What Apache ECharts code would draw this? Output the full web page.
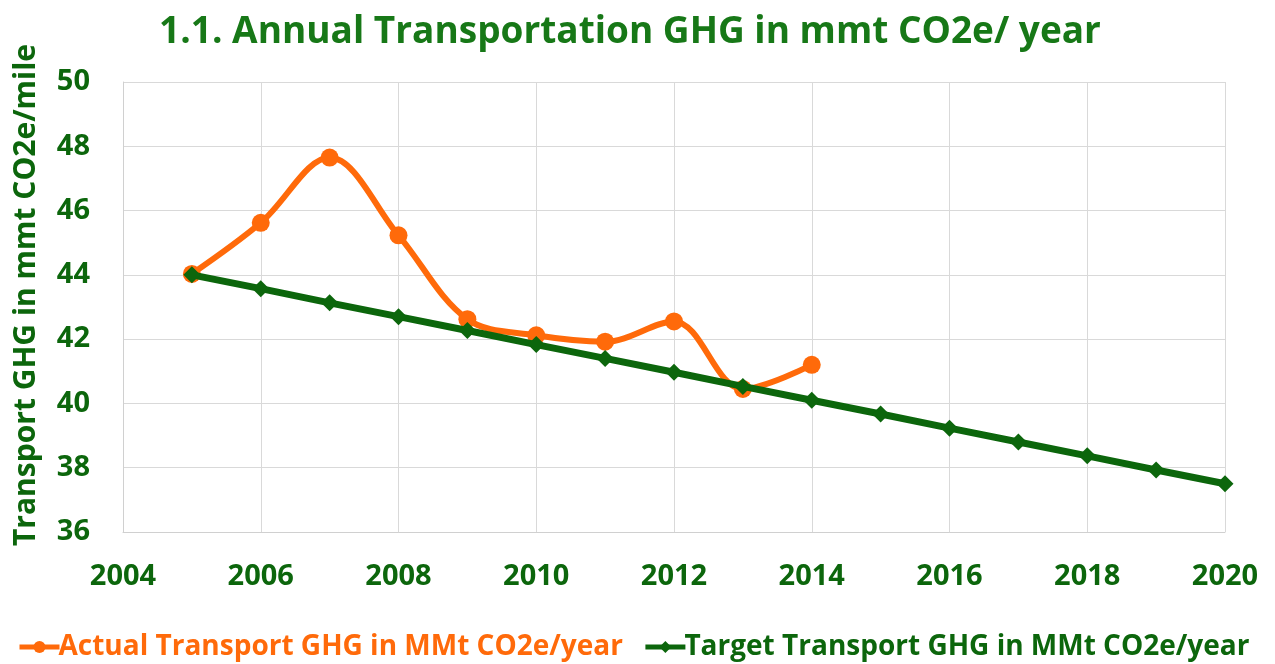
<!DOCTYPE html>
<html><head><meta charset="utf-8">
<script src="https://cdn.jsdelivr.net/npm/echarts@6/dist/echarts.min.js"></script>
<style>html,body{margin:0;padding:0;background:#fff}#c{width:1275px;height:664px}</style>
</head><body><div id="c"></div>
<script>
const years = [2005,2006,2007,2008,2009,2010,2011,2012,2013,2014,2015,2016,2017,2018,2019,2020];
const actualValues = [44.03,45.62,47.65,45.23,42.62,42.12,41.92,42.55,40.45,41.2];
const targetValues = [44.0,43.57,43.13,42.70,42.27,41.83,41.40,40.97,40.53,40.10,39.67,39.23,38.80,38.37,37.93,37.50];
const titleText = '1.1. Annual Transportation GHG in mmt CO2e/ year';
const yAxisTitle = 'Transport GHG in mmt CO2e/mile';
const seriesNames = ['Actual Transport GHG in MMt CO2e/year','Target Transport GHG in MMt CO2e/year'];

const FONT = 'Open Sans';
const GREEN = '#0C660C';
const ORANGE = '#FF6A0A';
const chart = echarts.init(document.getElementById('c'));
chart.setOption({
  animation:false,
  title:{text:titleText,left:625,top:9,textAlign:'center',
    textStyle:{fontFamily:FONT,fontWeight:'bold',fontSize:37,color:'#177817'}},
  grid:{left:123,right:50,top:82,bottom:132},
  legend:{left:12,bottom:-2,itemGap:20,itemWidth:40,itemHeight:15,
    lineStyle:{width:5},
    data:[{name:seriesNames[0],textStyle:{color:ORANGE}},{name:seriesNames[1],textStyle:{color:GREEN}}],
    textStyle:{fontFamily:FONT,fontWeight:'bold',fontSize:28,padding:[0,0,0,-6]}},
  xAxis:{type:'value',min:2004,max:2020,interval:2,
    axisLine:{show:true,lineStyle:{color:'#d0d0d0'}},axisTick:{show:false},
    splitLine:{show:true,lineStyle:{color:'#d9d9d9',width:1}},
    axisLabel:{fontFamily:FONT,fontWeight:'bold',fontSize:29,color:GREEN,margin:30,
      formatter:v=>String(v)}},
  yAxis:{type:'value',min:36,max:50,interval:2,
    name:yAxisTitle,nameLocation:'middle',nameGap:82,nameRotate:90,
    nameTextStyle:{fontFamily:FONT,fontWeight:'bold',fontSize:30,color:GREEN,padding:[0,0,0,24]},
    axisLine:{show:true,lineStyle:{color:'#d0d0d0'}},axisTick:{show:false},
    splitLine:{show:true,lineStyle:{color:'#d9d9d9',width:1}},
    axisLabel:{fontFamily:FONT,fontWeight:'bold',fontSize:29,color:GREEN,margin:33}},
  series:[
    {name:seriesNames[0],type:'line',smooth:0.35,z:3,
      data:actualValues.map((v,i)=>[years[i],v]),
      symbol:'circle',symbolSize:18,
      lineStyle:{color:ORANGE,width:6},itemStyle:{color:ORANGE}},
    {name:seriesNames[1],type:'line',z:4,
      data:targetValues.map((v,i)=>[years[i],v]),
      symbol:'diamond',symbolSize:17,
      lineStyle:{color:GREEN,width:7},itemStyle:{color:GREEN}}
  ]
});
</script></body></html>
